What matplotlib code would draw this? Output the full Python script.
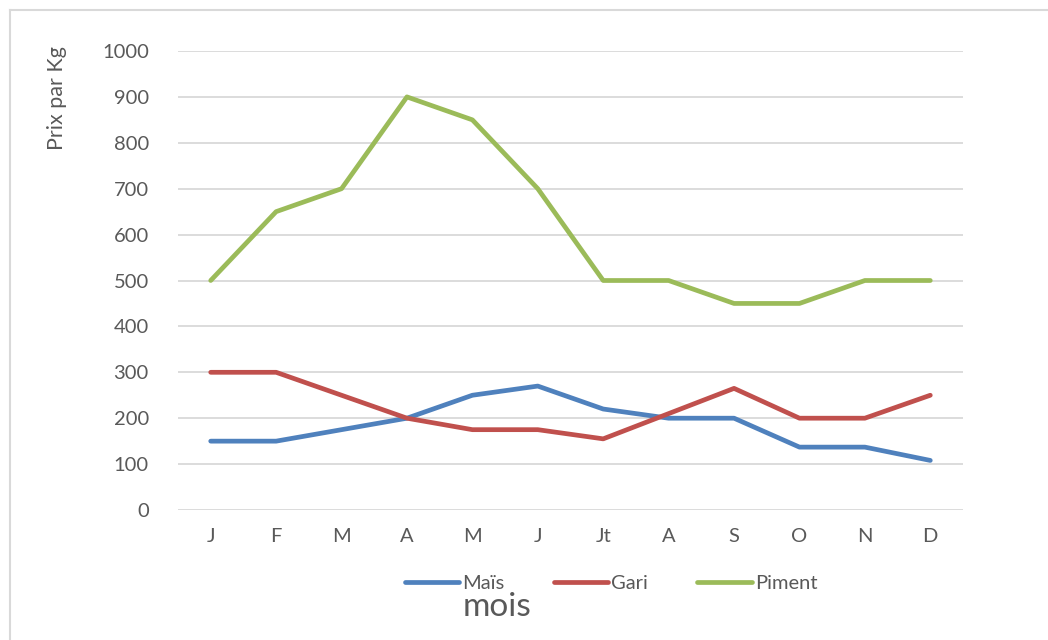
import matplotlib
matplotlib.use("Agg")
import matplotlib.pyplot as plt
from matplotlib.lines import Line2D

months = ["J", "F", "M", "A", "M", "J", "Jt", "A", "S", "O", "N", "D"]
mais = [150, 150, 175, 200, 250, 270, 220, 200, 200, 137, 137, 108]
gari = [300, 300, 250, 200, 175, 175, 155, 210, 265, 200, 200, 250]
piment = [500, 650, 700, 900, 850, 700, 500, 500, 450, 450, 500, 500]
series_names = ["Maïs", "Gari", "Piment"]
yticks = [0, 100, 200, 300, 400, 500, 600, 700, 800, 900, 1000]

colors = ["#4F81BD", "#C0504D", "#9BBB59"]
txt = "#595959"
grid = "#D9D9D9"
plt.rcParams['font.family'] = ['Lato', 'DejaVu Sans']

W, H = 1048, 640
fig = plt.figure(figsize=(W / 100, H / 100), dpi=100)
ax = fig.add_axes([178 / W, 1 - 510 / H, (963 - 178) / W, (510 - 51) / H])

x = list(range(len(months)))
for vals, c in zip([mais, gari, piment], colors):
    ax.plot(x, vals, color=c, lw=3.4, solid_capstyle='round', solid_joinstyle='round', zorder=3)

ax.set_xlim(-0.5, len(months) - 0.5)
ax.set_ylim(0, 1000)
ax.set_yticks(yticks)
ax.set_xticks(x)
ax.set_xticklabels(months)
for y in yticks:
    ax.axhline(y, color=grid, lw=1.3, zorder=1)
for s in ax.spines.values():
    s.set_visible(False)
ax.tick_params(axis='both', length=0, colors=txt, labelsize=14.5)
ax.tick_params(axis='y', pad=21)
ax.tick_params(axis='x', pad=13)

# outer frame
fig.add_artist(Line2D([10 / W, 10 / W], [0, 1 - 10 / H], color=grid, lw=1.5, transform=fig.transFigure))
fig.add_artist(Line2D([10 / W, 1], [1 - 10 / H, 1 - 10 / H], color=grid, lw=1.5, transform=fig.transFigure))

fig.text(57 / W, 1 - 98 / H, "Prix par Kg", rotation=90, ha='center', va='center', color=txt, fontsize=15.5)

handles = [Line2D([0], [0], color=c, lw=3.4, solid_capstyle='round') for c in colors]
fig.legend(handles, series_names, loc='center', bbox_to_anchor=(611 / W, 1 - 583 / H),
           ncol=3, frameon=False, fontsize=14.5, labelcolor=txt, handlelength=2.7,
           handletextpad=0.15, columnspacing=2.45)
fig.text(497 / W, 1 - 607 / H, "mois", ha='center', va='center', color=txt, fontsize=24)

fig.savefig("out.png", dpi=100)
